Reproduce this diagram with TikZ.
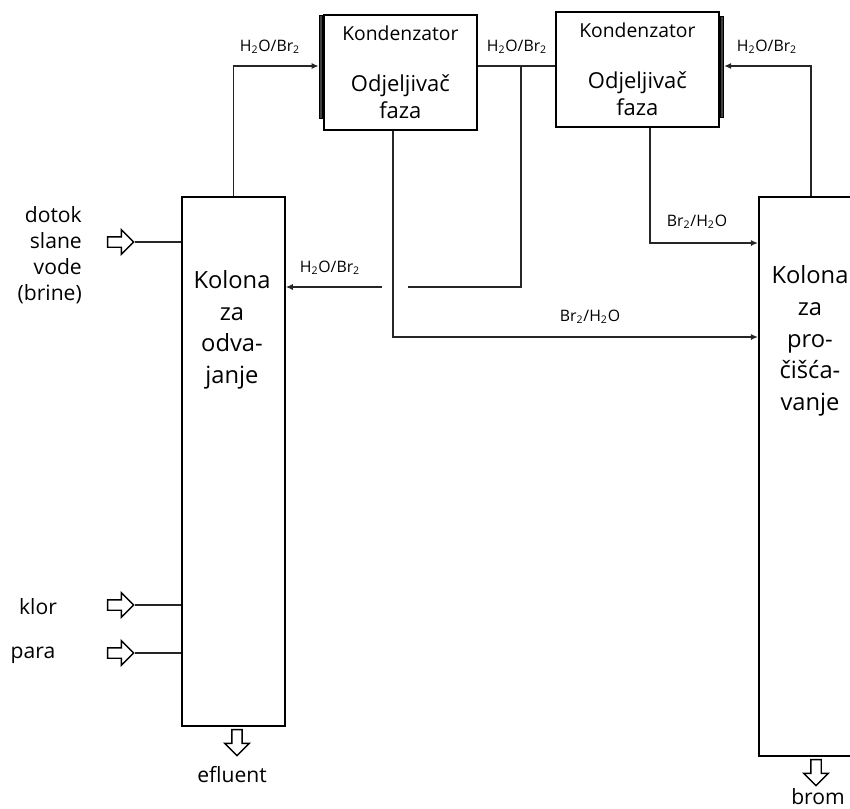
\documentclass[tikz,border=0pt]{standalone}
\usepackage{fontspec}
\setmainfont{Open Sans}
\usetikzlibrary{arrows.meta,shapes.arrows}

\newcommand{\kondTekst}{{\fontsize{11}{12}\selectfont Kondenzator}\\[14pt]Odjeljivač\\faza}
\newcommand{\hbr}{H\textsubscript{2}O/Br\textsubscript{2}}
\newcommand{\brh}{Br\textsubscript{2}/H\textsubscript{2}O}

\tikzset{
    kolona/.style = {draw, line width = 1pt, inner sep = 0, minimum width = 2.06cm, anchor = north west},
    kondenzator/.style = {draw, line width = 1pt, minimum width = 3.06cm, minimum height = 2.3cm,
        anchor = north west, align = center, font = \fontsize{12.5}{15}\selectfont},
    rub/.style = {draw, fill = black!75, line width = 0.5pt, minimum width = 0.07cm, inner sep = 0},
    tok/.style = {line width = 0.8pt, draw = black!85},
    ulaz/.style = {single arrow, draw, line width = 0.8pt, minimum width = 0.46cm, minimum height = 0.52cm,
        inner sep = 0.09cm, single arrow head extend = 0.14cm},
    oznaka/.style = {font = \fontsize{9}{10}\selectfont, inner sep = 1pt},
    natpis/.style = {font = \fontsize{12}{14.7}\selectfont, align = right},
    kolTekst/.style = {font = \fontsize{13.5}{18}\selectfont, align = center}
}

\begin{document}
\begin{tikzpicture}[> = {Latex[length = 4pt, width = 3.5pt]}, x = 0.02cm, y = -0.02cm]
        \useasboundingbox (0,0) rectangle (850,809);

        % Columns and condensers.
        \node[kolona, minimum height = 10.58cm] (lijevaKol) at (181,196) {};
        \node[kolona, minimum width = 2.08cm, minimum height = 11.18cm] (desnaKol) at (758,196) {};
        \node[kondenzator] (kond1) at (323,14) {\kondTekst};
        \node[kondenzator, minimum width = 3.26cm] (kond2) at (555,11) {\kondTekst};

        % Heavy edges of the condensers.
        \node[rub, minimum height = 2.06cm, anchor = north east] (rub1) at ([yshift = -0.02cm]kond1.north west) {};
        \node[rub, minimum height = 2.02cm, anchor = north west] (rub2) at ([yshift = -0.1cm]kond2.north east) {};

        % Text inside the columns.
        \node[kolTekst] (lijevaTekst) at (232,330) {Kolona\\za\\odva-\\janje};
        \node[kolTekst] (desnaTekst) at (810,341) {Kolona\\za\\pro-\\čišća-\\vanje};

        % Levels and corners of the lines.
        \coordinate (nivo) at (0,66);
        \coordinate (racva) at (521,66);
        \coordinate (povratKraj) at (408,287);
        \coordinate (povratPoc) at (382,287);
        \coordinate (nivoBr1) at (393,337);
        \coordinate (nivoBr2) at (650,243);

        % Streams between the units.
        \draw[tok, ->] (lijevaKol.north) |- (rub1.west |- nivo);
        \draw[tok] (kond1.east |- nivo) -- (kond2.west |- nivo);
        \draw[tok] (racva) |- (povratKraj);
        \draw[tok, ->] (povratPoc) -- (lijevaKol.east |- povratPoc);
        \draw[tok, ->] (kond1.south -| nivoBr1) |- (desnaKol.west |- nivoBr1);
        \draw[tok, ->] (kond2.south -| nivoBr2) |- (desnaKol.west |- nivoBr2);
        \draw[tok, ->] (desnaKol.north) |- (rub2.east |- nivo);

        % Labels of the streams.
        \node[oznaka] (oz1) at (270,47) {\hbr};
        \node[oznaka] (oz2) at (517,47) {\hbr};
        \node[oznaka] (oz3) at (767,47) {\hbr};
        \node[oznaka] (oz4) at (330,268) {\hbr};
        \node[oznaka] (oz5) at (590,317) {\brh};
        \node[oznaka] (oz6) at (697,222) {\brh};

        % Feeds and products.
        \node[ulaz] (dotokStr) at (118,242) {};
        \node[ulaz] (klorStr) at (118,605) {};
        \node[ulaz] (paraStr) at (118,653) {};
        \node[ulaz, rotate = -90] (efluentStr) at (237,740) {};
        \node[ulaz, rotate = -90] (bromStr) at (816,770) {};

        \draw[tok] (dotokStr.tip) -- (dotokStr.tip -| lijevaKol.west);
        \draw[tok] (klorStr.tip) -- (klorStr.tip -| lijevaKol.west);
        \draw[tok] (paraStr.tip) -- (paraStr.tip -| lijevaKol.west);

        \node[natpis, anchor = east] (dotok) at (88,255) {dotok\\slane\\vode\\(brine)};
        \node[natpis] (klor) at (38,607) {klor};
        \node[natpis] (para) at (33,655) {para};
        \node[natpis] (efluent) at (232,775) {efluent};
        \node[natpis] (brom) at (818,797) {brom};
    \end{tikzpicture}
\end{document}
